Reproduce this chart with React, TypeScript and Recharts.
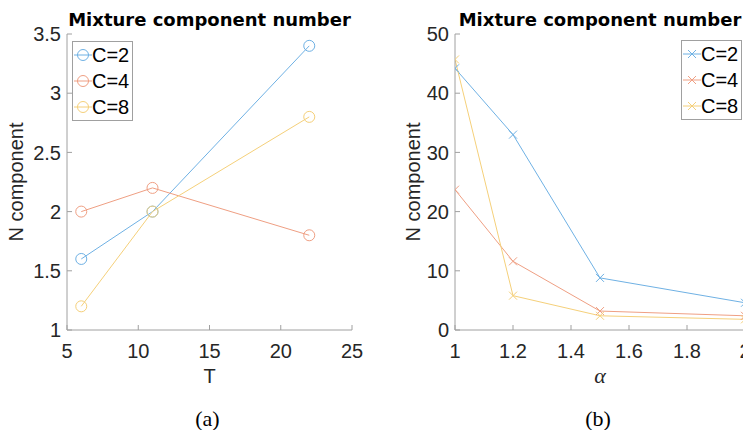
import { LineChart, Line, XAxis, YAxis, Legend } from 'recharts';

const seriesNames = ['C=2', 'C=4', 'C=8'];
const seriesKeys = ['c2', 'c4', 'c8'];
const seriesColors = ['#6fb1e4', '#ef9f83', '#f5d07a'];

// panel (a): N component vs T
const tValues = [6, 11, 22];
const tC2 = [1.6, 2.0, 3.4];
const tC4 = [2.0, 2.2, 1.8];
const tC8 = [1.2, 2.0, 2.8];
const tTicks = [5, 10, 15, 20, 25];
const leftYTicks = [1, 1.5, 2, 2.5, 3, 3.5];

// panel (b): N component vs alpha
const alphaValues = [1, 1.2, 1.5, 2];
const aC2 = [44.2, 33.0, 8.8, 4.6];
const aC4 = [23.7, 11.6, 3.2, 2.4];
const aC8 = [45.7, 5.8, 2.4, 1.8];
const alphaTicks = [1, 1.2, 1.4, 1.6, 1.8, 2];
const rightYTicks = [0, 10, 20, 30, 40, 50];

const panelTitle = 'Mixture component number';

const leftData = tValues.map((x, i) => ({ x, c2: tC2[i], c4: tC4[i], c8: tC8[i] }));
const rightData = alphaValues.map((x, i) => ({ x, c2: aC2[i], c4: aC4[i], c8: aC8[i] }));

const sans = '"Liberation Sans", Arial, sans-serif';
const serif = '"Liberation Serif", "DejaVu Serif", serif';
const axisGrey = '#a0a0a0';
const tickText = '#262626';

type Marker = 'circle' | 'cross';

function markerShape(marker: Marker, cx: number, cy: number, color: string, key?: any) {
  if (marker === 'circle') {
    return <circle key={key} cx={cx} cy={cy} r={5.5} fill="none" stroke={color} strokeWidth={1} />;
  }
  const s = 4;
  return (
    <path
      key={key}
      d={`M${cx - s},${cy - s}L${cx + s},${cy + s}M${cx + s},${cy - s}L${cx - s},${cy + s}`}
      stroke={color}
      strokeWidth={1}
      fill="none"
    />
  );
}

const makeDot = (marker: Marker, color: string) => (p: any) => {
  const { cx, cy, index } = p;
  if (cx == null || cy == null) return <g key={index} />;
  return markerShape(marker, cx, cy, color, index);
};

const makeLegend = (marker: Marker) => ({ payload }: any) => (
  <div
    style={{
      border: `1px solid ${axisGrey}`,
      background: '#fff',
      padding: '0 3px 0 1px',
      fontFamily: sans,
      fontSize: 20,
      color: '#000',
    }}
  >
    {(payload || []).map((e: any, i: number) => (
      <div key={i} style={{ display: 'flex', alignItems: 'center', height: 26 }}>
        <svg width={18} height={20} style={{ display: 'block' }}>
          <line x1={0} y1={10} x2={18} y2={10} stroke={e.color} strokeWidth={1} />
          {markerShape(marker, 9, 10, e.color)}
        </svg>
        <span>{e.value}</span>
      </div>
    ))}
  </div>
);

interface PanelProps {
  data: any[];
  width: number;
  yAxisWidth: number;
  marginRight: number;
  xDomain: [number, number];
  xTicks: number[];
  yDomain: [number, number];
  yTicks: number[];
  marker: Marker;
  xLabel: string;
  xLabelItalicSerif?: boolean;
  caption: string;
  yLabelBaseline: number;
  legendPos: { left: number; top: number };
}

function Panel(props: PanelProps) {
  const {
    data, width, yAxisWidth, marginRight, xDomain, xTicks, yDomain, yTicks,
    marker, xLabel, xLabelItalicSerif, caption, yLabelBaseline, legendPos,
  } = props;

  const bottomLabel = ({ viewBox }: any) => {
    const cx = viewBox.x + viewBox.width / 2;
    return (
      <g>
        <text
          x={cx}
          y={viewBox.y + 53}
          textAnchor="middle"
          fontFamily={xLabelItalicSerif ? serif : sans}
          fontStyle={xLabelItalicSerif ? 'italic' : 'normal'}
          fontSize={xLabelItalicSerif ? 22 : 20}
          fill={tickText}
        >
          {xLabel}
        </text>
        <text x={cx - 2} y={viewBox.y + 96} textAnchor="middle" fontFamily={serif} fontSize={22} fill="#000">
          {caption}
        </text>
      </g>
    );
  };

  const sideLabel = ({ viewBox }: any) => {
    const x = viewBox.x + yLabelBaseline;
    const y = viewBox.y + viewBox.height / 2;
    return (
      <text
        x={x}
        y={y}
        transform={`rotate(-90, ${x}, ${y})`}
        textAnchor="middle"
        fontFamily={sans}
        fontSize={20}
        fill={tickText}
      >
        N component
      </text>
    );
  };

  const plotWidth = width - yAxisWidth - marginRight;

  return (
    <div style={{ position: 'relative', width, height: 430 }}>
      <LineChart width={width} height={430} data={data} margin={{ top: 34, right: marginRight, bottom: 0, left: 0 }}>
        <XAxis
          dataKey="x"
          type="number"
          domain={xDomain}
          ticks={xTicks}
          allowDataOverflow
          height={100}
          axisLine={{ stroke: axisGrey }}
          tickLine={{ stroke: axisGrey }}
          tickSize={-5}
          tickMargin={19}
          tick={{ fontFamily: sans, fontSize: 20, fill: tickText }}
          interval={0}
          label={bottomLabel}
        />
        <XAxis
          xAxisId="top"
          orientation="top"
          dataKey="x"
          type="number"
          domain={xDomain}
          ticks={xTicks}
          allowDataOverflow
          height={0}
          axisLine={{ stroke: axisGrey }}
          tickLine={{ stroke: axisGrey }}
          tickSize={-5}
          tick={false}
        />
        <YAxis
          type="number"
          domain={yDomain}
          ticks={yTicks}
          allowDataOverflow
          width={yAxisWidth}
          axisLine={{ stroke: axisGrey }}
          tickLine={{ stroke: axisGrey }}
          tickSize={-5}
          tickMargin={11}
          tick={{ fontFamily: sans, fontSize: 20, fill: tickText }}
          interval={0}
          label={sideLabel}
        />
        <YAxis
          yAxisId="right"
          orientation="right"
          type="number"
          domain={yDomain}
          ticks={yTicks}
          allowDataOverflow
          width={0}
          axisLine={{ stroke: axisGrey }}
          tickLine={{ stroke: axisGrey }}
          tickSize={-5}
          tick={false}
        />
        <Legend
          layout="vertical"
          align="center"
          verticalAlign="middle"
          wrapperStyle={{ left: legendPos.left, top: legendPos.top, width: 'auto', height: 'auto' }}
          content={makeLegend(marker)}
        />
        {seriesKeys.map((k, i) => (
          <Line
            key={k}
            dataKey={k}
            name={seriesNames[i]}
            stroke={seriesColors[i]}
            strokeWidth={1}
            dot={makeDot(marker, seriesColors[i])}
            activeDot={false}
            isAnimationActive={false}
          />
        ))}
      </LineChart>
      <div
        style={{
          position: 'absolute',
          left: yAxisWidth - 20,
          top: 9,
          width: plotWidth + 40,
          textAlign: 'center',
          fontFamily: '"DejaVu Sans", sans-serif',
          fontWeight: 'bold',
          fontSize: 18,
          lineHeight: '21px',
          color: '#000',
          whiteSpace: 'nowrap',
          pointerEvents: 'none',
        }}
      >
        {panelTitle}
      </div>
    </div>
  );
}

export default function App() {
  return (
    <div
      style={{
        position: 'absolute',
        left: 0,
        top: 0,
        width: 743,
        height: 430,
        overflow: 'hidden',
        background: '#fff',
      }}
    >
      <div style={{ position: 'absolute', left: 0, top: 0 }}>
        <Panel
          data={leftData}
          width={370}
          yAxisWidth={67}
          marginRight={18}
          xDomain={[5, 25]}
          xTicks={tTicks}
          yDomain={[1, 3.5]}
          yTicks={leftYTicks}
          marker="circle"
          xLabel="T"
          caption="(a)"
          yLabelBaseline={23}
          legendPos={{ left: 72, top: 41 }}
        />
      </div>
      <div style={{ position: 'absolute', left: 370, top: 0 }}>
        <Panel
          data={rightData}
          width={380}
          yAxisWidth={85}
          marginRight={5}
          xDomain={[1, 2]}
          xTicks={alphaTicks}
          yDomain={[0, 50]}
          yTicks={rightYTicks}
          marker="cross"
          xLabel="α"
          xLabelItalicSerif
          caption="(b)"
          yLabelBaseline={50}
          legendPos={{ left: 311, top: 40 }}
        />
      </div>
    </div>
  );
}
